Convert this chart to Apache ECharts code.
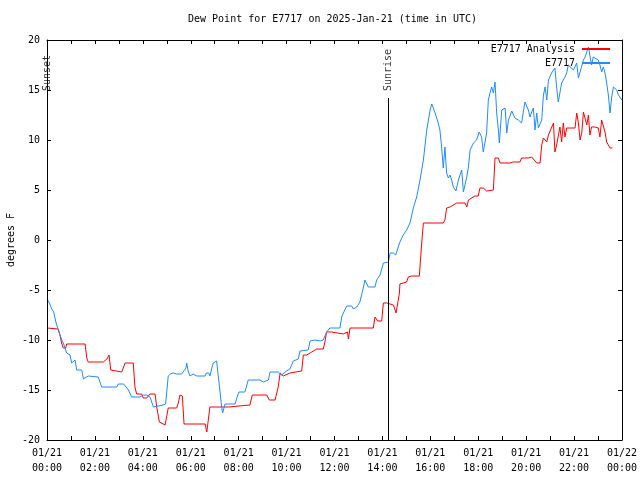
<!DOCTYPE html>
<html>
<head>
<meta charset="utf-8">
<script src="https://cdn.jsdelivr.net/npm/echarts@6/dist/echarts.min.js"></script>
<style>html,body{margin:0;padding:0;background:#fff}#c{width:640px;height:480px}</style>
</head>
<body>
<div id="c"></div>
<script>
// time in hours since 2025-01-21 00:00 UTC
var obsHours = [0.00,0.10,0.20,0.28,0.38,0.45,0.54,0.62,0.68,0.76,0.82,0.96,1.03,1.10,1.17,1.24,1.45,1.52,1.60,1.72,2.14,2.28,2.91,2.98,3.20,3.26,3.40,3.53,3.88,4.02,4.16,4.30,4.44,4.85,4.95,5.06,5.15,5.27,5.41,5.48,5.62,5.69,5.80,5.83,5.90,5.97,6.10,6.18,6.25,6.60,6.65,6.75,6.80,6.90,6.94,7.08,7.15,7.29,7.33,7.43,7.85,7.92,8.01,8.26,8.40,8.89,8.96,9.03,9.24,9.31,9.65,9.79,10.00,10.14,10.28,10.49,10.56,10.90,10.98,11.19,11.26,11.40,11.53,11.67,11.81,12.23,12.30,12.37,12.44,12.51,12.72,12.79,12.93,13.00,13.06,13.13,13.20,13.27,13.41,13.69,13.76,13.90,14.04,14.25,14.32,14.46,14.55,14.62,14.73,14.87,15.01,15.15,15.29,15.43,15.57,15.71,15.85,15.99,16.06,16.20,16.33,16.40,16.47,16.54,16.61,16.68,16.75,16.82,16.89,16.96,17.07,17.17,17.31,17.38,17.45,17.52,17.59,17.66,17.80,17.93,18.04,18.14,18.21,18.35,18.42,18.49,18.56,18.63,18.70,18.77,18.84,18.88,18.98,19.12,19.19,19.26,19.40,19.53,19.67,19.81,19.88,19.95,20.09,20.16,20.23,20.30,20.37,20.44,20.51,20.58,20.65,20.72,20.79,20.86,20.93,20.99,21.06,21.20,21.27,21.34,21.41,21.48,21.62,21.69,21.76,21.83,21.97,22.11,22.18,22.25,22.39,22.46,22.60,22.67,22.73,22.80,23.01,23.08,23.15,23.22,23.29,23.36,23.43,23.50,23.57,23.64,23.78,23.85,23.99];
var obsValues = [-5.9,-6.3,-6.9,-7.2,-8.3,-8.8,-9.5,-10.0,-10.3,-10.4,-11.3,-11.5,-12.3,-12.3,-12.0,-13.0,-13.0,-13.9,-13.7,-13.6,-13.7,-14.7,-14.7,-14.4,-14.4,-14.6,-15.0,-15.7,-15.7,-15.5,-15.5,-15.7,-16.7,-16.5,-16.4,-13.6,-13.4,-13.3,-13.4,-13.3,-13.4,-13.6,-12.8,-12.3,-13.2,-13.6,-13.4,-13.3,-13.6,-13.6,-13.3,-13.3,-13.6,-12.6,-12.3,-12.1,-12.3,-16.7,-17.3,-16.4,-16.4,-15.8,-15.2,-15.2,-14.0,-14.0,-13.9,-14.2,-14.0,-13.2,-13.2,-13.5,-13.1,-12.9,-12.1,-11.9,-11.1,-11.0,-10.1,-10.0,-9.8,-10.1,-10.0,-9.2,-8.8,-8.8,-7.7,-7.3,-7.3,-6.6,-6.6,-6.9,-6.7,-6.7,-6.2,-5.5,-4.8,-4.0,-4.7,-4.7,-4.0,-3.5,-2.3,-2.2,-1.3,-1.3,-1.5,-1.3,-0.2,0.5,1.0,1.7,3.2,4.3,6.0,8.0,11.0,13.0,13.6,12.7,11.7,11.0,9.3,7.2,9.3,6.7,6.2,6.5,6.0,5.3,4.9,6.0,7.0,4.8,5.0,6.3,7.3,9.0,9.7,10.0,10.8,10.3,8.8,10.7,14.0,14.7,15.3,14.7,15.8,12.7,11.0,9.7,13.0,13.2,10.7,12.0,12.9,12.2,12.0,11.7,12.8,13.8,13.0,12.3,12.8,13.2,11.0,12.7,11.2,11.0,12.0,14.5,15.3,14.0,16.0,16.0,16.7,17.2,15.3,13.8,14.0,15.7,16.3,16.7,17.5,17.3,17.0,17.7,16.2,16.3,18.0,18.3,19.3,18.3,17.5,18.3,18.0,17.5,16.8,17.3,16.7,15.7,14.5,12.7,14.3,15.3,15.0,14.5,14.0];

var anaHours = [0.00,0.47,0.54,0.61,0.68,0.78,0.82,1.59,1.66,1.72,2.35,2.50,2.59,2.66,2.70,3.12,3.26,3.60,3.67,3.74,3.95,4.02,4.16,4.30,4.51,4.58,4.69,4.93,5.00,5.06,5.41,5.48,5.55,5.65,5.72,6.60,6.67,6.74,6.80,7.57,7.64,8.47,8.57,9.17,9.28,9.52,9.65,9.73,9.86,10.14,10.21,10.63,10.70,10.84,10.91,11.05,11.12,11.26,11.53,11.60,11.67,11.88,11.95,12.37,12.44,12.54,12.58,12.65,13.62,13.69,13.80,13.97,14.04,14.18,14.25,14.46,14.57,14.64,14.71,14.73,15.01,15.08,15.22,15.54,15.64,15.71,16.40,16.54,16.61,16.68,16.82,17.10,17.45,17.52,17.59,17.66,17.86,18.00,18.07,18.21,18.35,18.63,18.70,18.84,18.91,19.33,19.46,19.74,19.81,19.88,20.09,20.23,20.30,20.44,20.58,20.65,20.72,20.79,20.86,20.93,21.00,21.07,21.14,21.20,21.27,21.34,21.41,21.48,21.55,21.62,21.69,22.04,22.11,22.18,22.25,22.32,22.39,22.46,22.53,22.60,22.66,22.73,22.80,22.87,23.01,23.08,23.15,23.22,23.29,23.36,23.50,23.60];
var anaValues = [-8.8,-8.9,-9.5,-10.3,-10.8,-10.8,-10.4,-10.4,-11.8,-12.2,-12.2,-11.9,-11.5,-13.0,-13.2,-13.2,-12.3,-12.3,-14.7,-15.4,-15.4,-15.8,-15.8,-15.4,-15.4,-16.7,-18.2,-18.5,-18.5,-16.8,-16.8,-16.3,-15.5,-15.6,-18.4,-18.4,-19.2,-19.2,-16.7,-16.7,-16.5,-16.5,-15.5,-15.5,-16.0,-16.0,-14.7,-13.3,-13.6,-13.3,-13.2,-13.1,-11.5,-11.5,-11.3,-11.2,-11.1,-10.9,-10.9,-10.2,-9.2,-9.2,-9.4,-9.4,-9.2,-9.2,-9.9,-8.8,-8.8,-7.7,-8.1,-8.1,-6.3,-6.3,-6.5,-6.5,-7.3,-7.3,-5.3,-4.4,-4.2,-3.7,-3.6,-3.6,-0.3,1.7,1.7,1.7,2.0,3.2,3.3,3.7,3.7,3.3,4.0,4.2,4.4,4.4,5.2,5.2,4.9,5.0,8.2,8.2,7.7,7.7,7.8,7.8,8.2,8.0,8.2,8.3,8.1,7.7,7.7,9.5,10.2,10.2,9.8,10.5,10.4,11.3,11.7,8.8,9.5,9.3,11.3,9.8,11.7,10.3,11.2,11.2,12.7,11.7,10.0,10.7,12.8,12.7,11.5,12.5,10.5,11.3,11.2,11.3,11.2,10.3,12.0,12.1,10.8,9.8,9.2,9.2];

var eventNames = ['Sunset', 'Sunrise'];
var eventHours = [0, 14.24];
var eventLineTop = 14.2;
var eventLabelBase = 14.8;

var xTickLabels = ['01/21\n00:00','01/21\n02:00','01/21\n04:00','01/21\n06:00','01/21\n08:00','01/21\n10:00','01/21\n12:00','01/21\n14:00','01/21\n16:00','01/21\n18:00','01/21\n20:00','01/21\n22:00','01/22\n00:00'];
var yTicks = [-20, -15, -10, -5, 0, 5, 10, 15, 20];

function zip(a, b) { return a.map(function (v, i) { return [v, b[i]]; }); }

var FONT = 'DejaVu Sans Mono';
var chart = echarts.init(document.getElementById('c'), null, { renderer: 'canvas' });

function axisCommon() {
  return {
    axisLine: { show: true, onZero: false, lineStyle: { color: '#000', width: 1 } },
    axisTick: { show: true, inside: true, length: 4, lineStyle: { color: '#000', width: 1 } },
    splitLine: { show: false }
  };
}

var markData = eventHours.map(function (h) {
  return [{ coord: [h, yTicks[0]] }, { coord: [h, eventLineTop] }];
});

chart.setOption({
  animation: false,
  backgroundColor: '#fff',
  textStyle: { fontFamily: FONT, fontSize: 10, color: '#000' },
  title: {
    text: 'Dew Point for E7717 on 2025-Jan-21 (time in UTC)',
    left: 188, top: 14, padding: 0,
    textStyle: { fontFamily: FONT, fontSize: 10, fontWeight: 'normal', color: '#000' }
  },
  legend: [
    { data: ['E7717 Analysis'], orient: 'vertical', align: 'right', right: 30, top: 44, padding: 0,
      itemWidth: 28, itemHeight: 2, icon: 'rect', itemGap: 2,
      textStyle: { fontFamily: FONT, fontSize: 10, color: '#000', padding: [0, 2, 0, 0] } },
    { data: ['E7717'], orient: 'vertical', align: 'right', right: 30, top: 58, padding: 0,
      itemWidth: 28, itemHeight: 2, icon: 'rect', itemGap: 2,
      textStyle: { fontFamily: FONT, fontSize: 10, color: '#000', padding: [0, 2, 0, 0] } }
  ],
  grid: { left: 47, right: 18, top: 40, bottom: 40, containLabel: false, outerBoundsMode: 'none' },
  xAxis: [
    Object.assign(axisCommon(), {
      type: 'value', min: 0, max: 24, interval: 1, position: 'bottom',
      axisLabel: {
        show: true, margin: 6, fontFamily: FONT, fontSize: 10, color: '#000', lineHeight: 15,
        formatter: function (v) { return (Math.round(v) % 2 === 0) ? xTickLabels[Math.round(v) / 2] : ''; }
      }
    }),
    Object.assign(axisCommon(), {
      type: 'value', min: 0, max: 24, interval: 1, position: 'top',
      axisLabel: { show: false }
    })
  ],
  yAxis: [
    Object.assign(axisCommon(), {
      type: 'value', min: yTicks[0], max: yTicks[yTicks.length - 1], interval: 5, position: 'left',
      name: 'degrees F', nameLocation: 'middle', nameGap: 31, nameRotate: 90, nameMoveOverlap: false,
      nameTextStyle: { fontFamily: FONT, fontSize: 10, color: '#000' },
      axisLabel: { show: true, margin: 7, fontFamily: FONT, fontSize: 10, color: '#000' }
    }),
    Object.assign(axisCommon(), {
      type: 'value', min: yTicks[0], max: yTicks[yTicks.length - 1], interval: 5, position: 'right',
      axisLabel: { show: false }
    })
  ],
  series: [
    {
      name: 'E7717 Analysis', type: 'line', data: zip(anaHours, anaValues),
      showSymbol: false, symbol: 'none', color: '#ff0000',
      lineStyle: { color: '#ff0000', width: 1 }, z: 2,
      markLine: {
        silent: true, symbol: ['none', 'none'], label: { show: false },
        lineStyle: { color: '#000', width: 1, type: 'solid' },
        data: markData
      }
    },
    {
      name: 'E7717', type: 'line', data: zip(obsHours, obsValues),
      showSymbol: false, symbol: 'none', color: '#1e8cff',
      lineStyle: { color: '#1e8cff', width: 1 }, z: 3
    },
    {
      name: 'events', type: 'scatter', symbolSize: 0, silent: true, z: 4, clip: false,
      data: eventHours.map(function (h, i) { return { name: eventNames[i], value: [h, eventLabelBase] }; }),
      label: {
        show: true, position: [0, 0], rotate: 90, align: 'left', verticalAlign: 'middle',
        formatter: function (p) { return p.name; },
        fontFamily: FONT, fontSize: 10, color: '#000', offset: [1, 0]
      }
    }
  ]
});
</script>
</body>
</html>
